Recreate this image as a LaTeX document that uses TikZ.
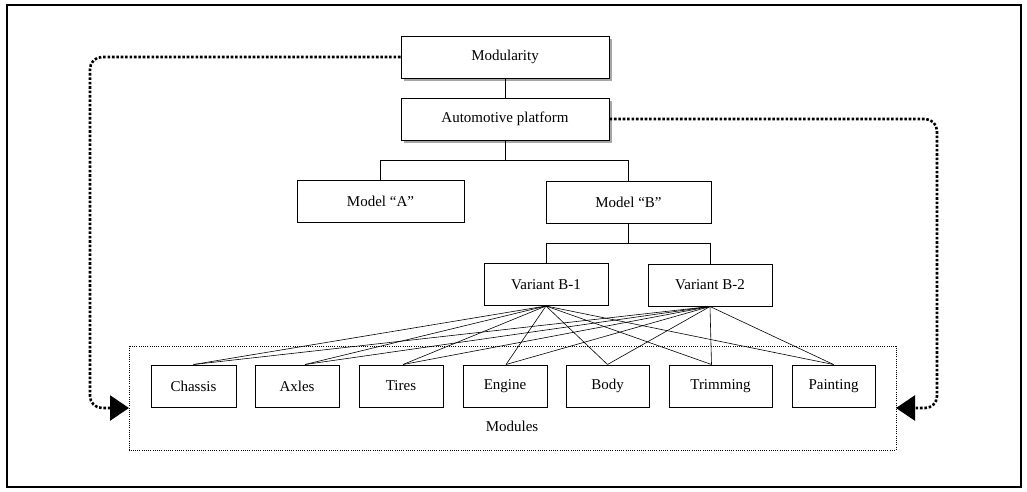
\documentclass[tikz,border=0pt]{standalone}
\usepackage{fontspec}
\setmainfont{Liberation Serif}
\usetikzlibrary{arrows.meta,shadows}
\begin{document}
\begin{tikzpicture}[x=1pt,y=-1pt,
  box/.style={draw,line width=1pt,inner sep=0pt,minimum height=42pt,font=\fontsize{15}{17}\selectfont},
  shbox/.style={box,fill=white,drop shadow={shadow xshift=2.5pt,shadow yshift=-3pt,fill=gray!70,opacity=1}},
  tree/.style={line width=1pt},
  link/.style={line width=0.6pt},
  bigdot/.style={line width=2.6pt,dash pattern=on 2.6pt off 1.8pt,rounded corners=12pt,-{Triangle[length=19pt,width=25pt]}},
  modframe/.style={line width=1pt,dash pattern=on 1pt off 1.2pt}]
\useasboundingbox (0,0) rectangle (1027,491);
\draw[line width=1.6pt] (7,5) rectangle (1021,487);

\node[shbox,minimum width=208pt] (mod) at (505,57) {Modularity};
\node[shbox,minimum width=208pt] (auto) at (505,119) {Automotive platform};
\node[box,minimum width=167pt] (ma) at (380.5,201) {Model ``A''};
\node[box,minimum width=165pt] (mb) at (628.5,202) {Model ``B''};
\node[box,minimum width=124pt] (b1) at (546,284.5) {Variant B-1};
\node[box,minimum width=124pt] (b2) at (710,285) {Variant B-2};

\draw[modframe] (129,346) rectangle (896,450);
\node[font=\fontsize{15}{17}\selectfont] (modlabel) at (512,426) {Modules};

\node[box,minimum width=85pt] (m1) at (193.5,386) {Chassis};
\node[box,minimum width=84pt] (m2) at (297,386) {Axles};
\node[box,minimum width=84pt] (m3) at (401,386) {Tires};
\node[box,minimum width=84pt] (m4) at (505,386) {Engine};
\node[box,minimum width=83pt] (m5) at (607.5,386) {Body};
\node[box,minimum width=103pt] (m6) at (720.5,386) {Trimming};
\node[box,minimum width=83pt] (m7) at (833.5,386) {Painting};

\coordinate (t1) at (m1.north);
\coordinate (t2) at ([xshift=8pt]m2.north);
\coordinate (t3) at ([xshift=2pt]m3.north);
\coordinate (t4) at ([xshift=1pt]m4.north);
\coordinate (t5) at (m5.north);
\coordinate (t6) at ([xshift=-9pt]m6.north);
\coordinate (t7) at (m7.north);

\draw[tree] (mod.south) -- (auto.north);
\coordinate (j1) at (505,160);
\draw[tree] (auto.south) -- (j1) -| (ma.north);
\draw[tree] (j1) -| (mb.north);
\coordinate (j2) at (628.5,243);
\draw[tree] (mb.south) -- (j2) -| (b1.north);
\draw[tree] (j2) -| (b2.north);

\foreach \m in {t1,t2,t3,t4,t5,t6,t7}{
  \draw[link] (b1.south) -- (\m);
  \draw[link] (b2.south) -- (\m);
}

\coordinate (lt) at (129,408);
\coordinate (rt) at (896,408);
\draw[bigdot] (mod.west) -- (90,57) -- (90,408) -- (lt);
\draw[bigdot] (auto.east) -- (937,119) -- (937,408) -- (rt);
\end{tikzpicture}
\end{document}
